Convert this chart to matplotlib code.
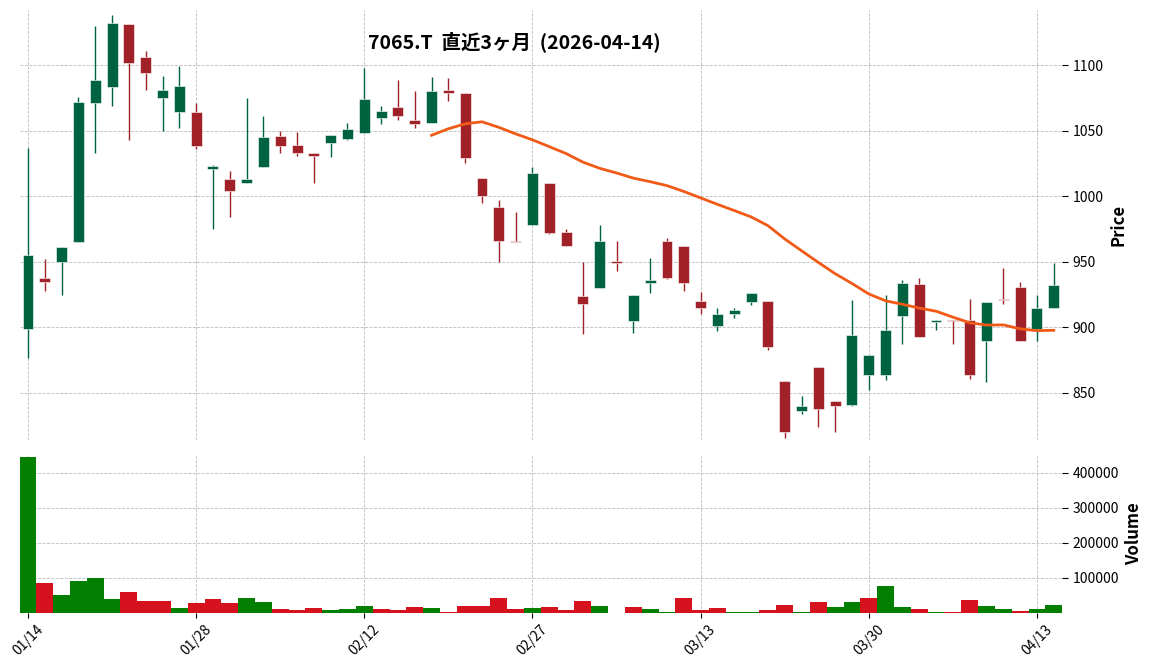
import matplotlib
matplotlib.use("Agg")
import matplotlib.pyplot as plt
import numpy as np
import pandas as pd

plt.rcParams['font.family'] = ['Noto Sans CJK JP', 'DejaVu Sans']

title = "7065.T  直近3ヶ月  (2026-04-14)"
tick_labels = ["01/14", "01/28", "02/12", "02/27", "03/13", "03/30", "04/13"]
tick_pos = [0, 10, 20, 30, 40, 50, 60]

opens = [899, 938, 950, 965, 1071, 1083, 1131, 1106, 1075, 1064,
         1064, 1021, 1013, 1010, 1022, 1046, 1039, 1033, 1041, 1044,
         1048, 1060, 1068, 1058, 1056, 1081, 1079, 1014, 992, 966,
         978, 1010, 973, 924, 930, 951, 905, 934, 966, 962,
         920, 901, 910, 919, 920, 859, 836, 870, 844, 841,
         864, 864, 909, 933, 904, 906, 906, 890, 922, 931,
         899, 915]
closes = [955, 935, 961, 1072, 1089, 1132, 1102, 1094, 1081, 1084,
          1038, 1023, 1004, 1013, 1045, 1038, 1033, 1031, 1047, 1051,
          1074, 1065, 1061, 1055, 1080, 1079, 1029, 1000, 966, 965,
          1018, 972, 962, 918, 966, 949, 925, 936, 938, 934,
          915, 910, 913, 926, 885, 820, 840, 838, 840, 894,
          879, 898, 934, 893, 906, 905, 864, 919, 921, 890,
          915, 932]
highs = [1037, 952, 961, 1076, 1130, 1138, 1131, 1111, 1092, 1099,
         1071, 1024, 1019, 1075, 1061, 1050, 1049, 1033, 1047, 1056,
         1098, 1069, 1089, 1080, 1091, 1090, 1079, 1014, 997, 988,
         1022, 1010, 975, 950, 978, 966, 925, 953, 968, 962,
         927, 915, 915, 926, 920, 859, 848, 870, 844, 921,
         879, 925, 936, 938, 906, 906, 922, 919, 945, 935,
         925, 949]
lows = [877, 928, 925, 965, 1033, 1069, 1043, 1081, 1050, 1052,
        1036, 975, 984, 1010, 1022, 1033, 1031, 1010, 1030, 1043,
        1048, 1055, 1058, 1052, 1056, 1073, 1025, 995, 950, 965,
        978, 971, 962, 895, 930, 943, 896, 926, 937, 928,
        910, 897, 907, 917, 883, 816, 834, 824, 820, 840,
        852, 860, 887, 893, 898, 887, 861, 858, 918, 890,
        890, 915]
volumes = [446000, 86000, 51000, 91000, 100000, 40000, 60000, 34000, 34000, 14000,
           29000, 40000, 29000, 43000, 31000, 11000, 9000, 14000, 9000, 11000,
           20000, 11000, 9000, 17000, 14000, 3000, 20000, 20000, 43000, 11000,
           14000, 17000, 9000, 34000, 20000, 0, 17000, 11000, 3000, 43000,
           9000, 14000, 3000, 3000, 9000, 23000, 3000, 31000, 17000, 31000,
           43000, 77000, 17000, 11000, 3000, 3000, 37000, 20000, 11000, 6000,
           11000, 23000]

o = np.array(opens, float); c = np.array(closes, float)
h = np.array(highs, float); l = np.array(lows, float)
v = np.array(volumes, float)
x = np.arange(len(o))
ma = pd.Series(c).rolling(25).mean()

fig = plt.figure(figsize=(11.52, 6.7), dpi=100)
ax = fig.add_axes([0.017, 0.343, 0.905, 0.642])
axv = fig.add_axes([0.017, 0.085, 0.905, 0.236], sharex=ax)

up_c, dn_c = '#006340', '#a02128'
for i in x:
    col = up_c if c[i] >= o[i] else dn_c
    ax.vlines(i, l[i], h[i], color=col, lw=1, zorder=2)
    b = min(o[i], c[i]); ht = max(abs(c[i] - o[i]), 0.8)
    ax.bar(i, ht, bottom=b, width=0.65, color=col, edgecolor='white', lw=0.4, zorder=3)
ax.plot(x, ma, color='#f15a16', lw=2, zorder=4)

prev = np.concatenate([[o[0]], c[:-1]])
vcol = ['#007f00' if c[i] >= prev[i] else '#d5121e' for i in x]
axv.bar(x, v, width=1.0, color=vcol, zorder=3)

for a in (ax, axv):
    for s in a.spines.values():
        s.set_visible(False)
    a.grid(True, ls='--', color='#bbbbbb', lw=0.6)
    a.yaxis.tick_right()
    a.yaxis.set_label_position('right')
    a.tick_params(axis='y', labelsize=10, length=4)
ax.set_xlim(-0.5, 61.5)
ax.set_ylim(814, 1142)
ax.set_yticks([850, 900, 950, 1000, 1050, 1100])
ax.tick_params(axis='x', bottom=False, labelbottom=False)
axv.set_ylim(0, 451000)
axv.set_yticks([100000, 200000, 300000, 400000])
axv.set_xticks(tick_pos)
axv.set_xticklabels(tick_labels, rotation=45, fontsize=10)
ax.set_ylabel('Price', fontsize=12, fontweight='bold')
axv.set_ylabel('Volume', fontsize=12, fontweight='bold')
ax.text(0.475, 0.95, title, transform=ax.transAxes, ha='center', va='top',
        fontsize=14, fontweight='bold')

fig.savefig('out.png', dpi=100)
